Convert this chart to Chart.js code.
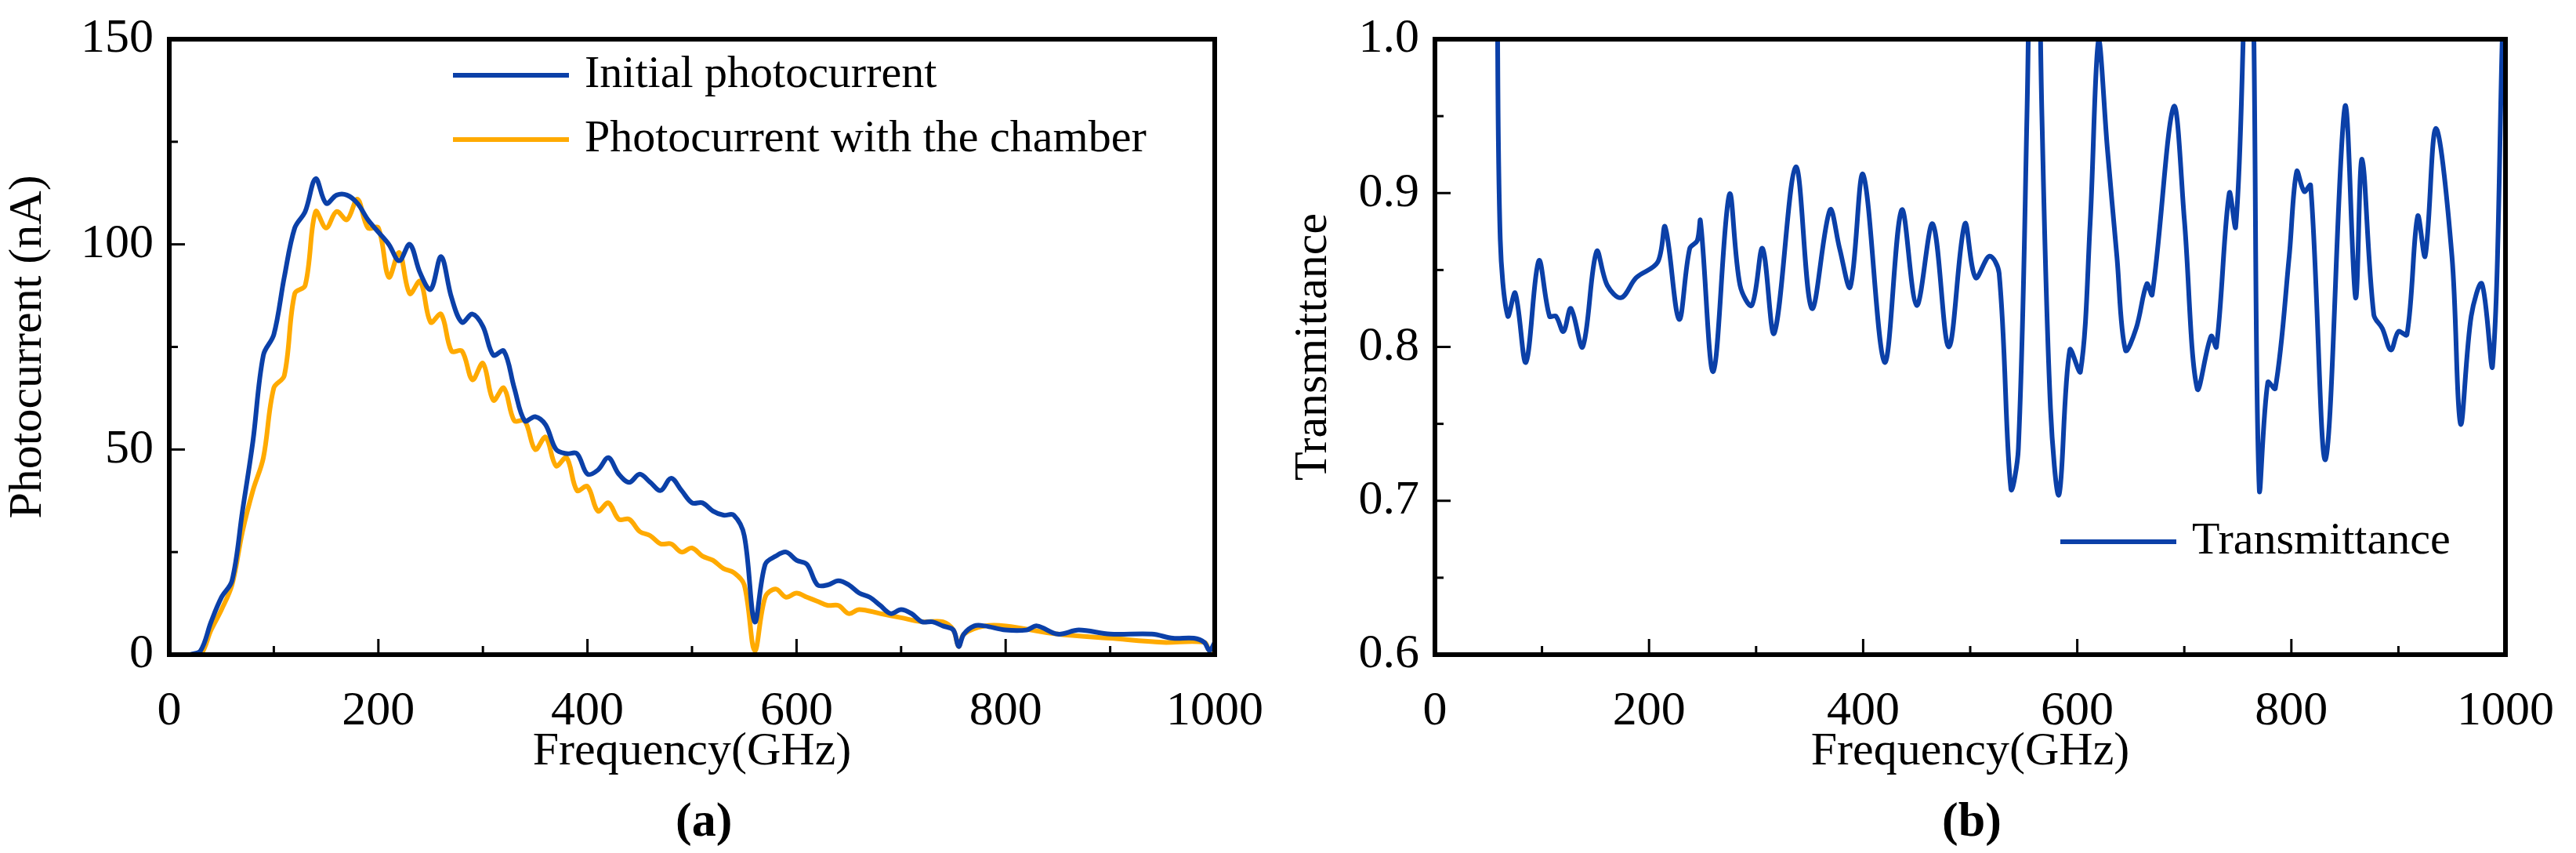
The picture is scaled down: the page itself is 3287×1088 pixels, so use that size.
<!DOCTYPE html>
<html>
<head>
<meta charset="utf-8">
<script src="https://cdn.jsdelivr.net/npm/chart.js@4.4.0/dist/chart.umd.min.js"></script>
<style>
  body { margin: 0; background: #fff; width: 3287px; height: 1088px; position: relative; overflow: hidden; }
  .box { position: absolute; top: 0; height: 1088px; }
  .lab { position: absolute; font: bold 62px "Liberation Serif"; top: 1010px; }
</style>
</head>
<body>
<div class="box" style="left:0;width:1640px"><canvas id="chartA"></canvas></div>
<div class="box" style="left:1640px;width:1647px"><canvas id="chartB"></canvas></div>
<div class="lab" style="left:862px">(a)</div>
<div class="lab" style="left:2478px">(b)</div>
<script>
// (a) photocurrent
const freqA = [20,30,40,50,60,70,80,90,100,110,120,130,140,150,160,170,180,190,200,210,220,230,240,250,260,270,280,290,300,310,320,330,340,350,360,370,380,390,400,410,420,430,440,450,460,470,480,490,500,510,520,530,540,550,560,570,580,590,600,610,620,630,640,650,660,670,680,690,700,710,720,730,740,750,755,760,770,780,800,820,830,850,870,900,940,960,980,990,995,1000];
const initialA = [0,1,8,14,18,35,52,73,78,92,104,108,116,110,112,112,110,106,103,100,96,100,93,89,97,87,81,83,80,73,74,65,57,58,56,50,49,49,44,45,48,44,42,44,42,40,43,40,37,37,35,34,34,29,8,22,24,25,23,22,17,17,18,17,15,14,12,10,11,10,8,8,7,6,2,5,7,7,6,6,7,5,6,5,5,4,4,3,1,3];
const freqC = [20,30,40,50,60,70,80,90,100,110,120,130,140,150,160,170,180,190,200,210,220,230,240,250,260,270,280,290,300,310,320,330,340,350,360,370,380,390,400,410,420,430,440,450,460,470,480,490,500,510,520,530,540,550,560,570,580,590,600,610,620,630,640,650,660,680,700,720,740,750,755,760,780,800,850,900,950,990,995,1000];
const chamberA = [0,0,6,11,17,30,40,48,65,68,88,90,108,104,108,106,111,104,104,92,98,88,91,81,83,74,74,67,71,62,65,57,57,50,53,46,48,40,41,35,37,33,33,30,29,27,27,25,26,24,23,21,20,17,1,14,16,14,15,14,13,12,12,10,11,10,9,8,8,6,2,5,7,7,5,4,3,3,1,2];
// (b) transmittance
const freqB = [58,61,68,75,85,97,107,113,120,127,138,151,161,174,188,208,215,228,238,245,248,260,275,285,296,306,317,337,352,369,378,388,400,420,436,450,465,480,495,505,518,527,538,545,553,558,562,567,575,583,593,603,612,620,628,637,645,655,665,670,690,700,712,725,730,742,748,755,758,762,765,770,778,785,798,805,812,818,832,850,860,866,877,885,893,900,908,918,925,935,950,958,968,978,988,997,1000];
const transB = [1.05,0.87,0.82,0.835,0.79,0.856,0.82,0.82,0.81,0.825,0.80,0.862,0.84,0.832,0.845,0.855,0.878,0.818,0.864,0.869,0.882,0.784,0.899,0.84,0.827,0.864,0.809,0.917,0.825,0.889,0.864,0.839,0.912,0.79,0.889,0.827,0.88,0.80,0.88,0.845,0.859,0.848,0.708,0.734,0.95,1.15,1.15,0.95,0.76,0.704,0.798,0.784,0.88,1.0,0.93,0.859,0.798,0.812,0.841,0.834,0.956,0.883,0.773,0.807,0.80,0.90,0.878,1.0,1.12,1.12,1.0,0.708,0.777,0.773,0.859,0.914,0.901,0.905,0.727,0.956,0.832,0.922,0.821,0.812,0.798,0.81,0.808,0.885,0.859,0.942,0.859,0.75,0.82,0.841,0.788,1.0,1.1];

const BLUE = "#0b40a8";
const ORANGE = "#ffaa00";
const FONT = "Liberation Serif";

function pts(xs, ys) { return xs.map((x, i) => ({ x: x, y: ys[i] })); }

// frame + inward ticks + legend
function framePlugin(opts) {
  return {
    id: "frame",
    afterDraw(chart) {
      const ctx = chart.ctx, a = chart.chartArea;
      const xs = chart.scales.x, ys = chart.scales.y;
      ctx.save();
      ctx.strokeStyle = "#000";
      ctx.lineWidth = 3;
      opts.xMinor.forEach(v => {
        const px = xs.getPixelForValue(v);
        const len = opts.xMajor.includes(v) ? 20 : 11;
        ctx.beginPath(); ctx.moveTo(px, a.bottom); ctx.lineTo(px, a.bottom - len); ctx.stroke();
      });
      opts.yMinor.forEach(v => {
        const py = ys.getPixelForValue(v);
        const len = opts.yMajor.some(m => Math.abs(m - v) < 1e-9) ? 20 : 11;
        ctx.beginPath(); ctx.moveTo(a.left, py); ctx.lineTo(a.left + len, py); ctx.stroke();
      });
      ctx.lineWidth = 6;
      ctx.strokeRect(a.left, a.top, a.right - a.left, a.bottom - a.top);
      ctx.font = "58px '" + FONT + "'";
      ctx.textBaseline = "middle";
      ctx.fillStyle = "#000";
      opts.legend.forEach(l => {
        ctx.strokeStyle = l.color;
        ctx.lineWidth = 6;
        ctx.beginPath(); ctx.moveTo(l.x, l.y); ctx.lineTo(l.x + 148, l.y); ctx.stroke();
        ctx.fillText(l.text, l.x + 168, l.y);
      });
      ctx.restore();
    }
  };
}

function makeChart(id, datasets, cfg) {
  return new Chart(document.getElementById(id), {
    type: "line",
    data: { datasets: datasets },
    options: {
      responsive: true,
      maintainAspectRatio: false,
      animation: false,
      layout: { padding: { top: 50, right: cfg.padRight, left: 0, bottom: 93 } },
      plugins: { legend: { display: false }, tooltip: { enabled: false } },
      elements: { point: { radius: 0 }, line: { borderWidth: 6, tension: 0.35 } },
      scales: {
        x: {
          type: "linear", min: 0, max: 1000,
          afterFit: s => { s.height = 160; },
          grid: { display: false }, border: { display: false },
          ticks: { stepSize: 200, padding: 28, color: "#000", font: { family: FONT, size: 62 },
                   callback: v => String(v) },
          title: { display: true, text: "Frequency(GHz)", color: "#000", padding: 0, font: { family: FONT, size: 60 } }
        },
        y: {
          min: cfg.yMin, max: cfg.yMax,
          afterFit: s => { s.width = cfg.yWidth; },
          grid: { display: false }, border: { display: false },
          ticks: { stepSize: cfg.yStep, padding: 12, color: "#000", font: { family: FONT, size: 62 },
                   callback: cfg.yFmt },
          title: { display: true, text: cfg.yTitle, color: "#000", padding: 0, font: { family: FONT, size: 60 } }
        }
      }
    },
    plugins: [framePlugin(cfg.frame)]
  });
}

makeChart("chartA", [
  { data: pts(freqA, initialA), borderColor: BLUE },
  { data: pts(freqC, chamberA), borderColor: ORANGE }
], {
  padRight: 45, yWidth: 216, yMin: 0, yMax: 150, yStep: 50, yTitle: "Photocurrent (nA)",
  yFmt: v => String(v),
  frame: {
    xMajor: [0,200,400,600,800,1000], xMinor: [0,100,200,300,400,500,600,700,800,900,1000],
    yMajor: [0,50,100,150], yMinor: [0,25,50,75,100,125,150],
    legend: [
      { text: "Initial photocurrent", color: BLUE, x: 578, y: 96 },
      { text: "Photocurrent with the chamber", color: ORANGE, x: 578, y: 178 }
    ]
  }
});

makeChart("chartB", [
  { data: pts(freqB, transB), borderColor: BLUE }
], {
  padRight: 74, yWidth: 191, yMin: 0.6, yMax: 1.0, yStep: 0.1, yTitle: "Transmittance",
  yFmt: v => v.toFixed(1),
  frame: {
    xMajor: [0,200,400,600,800,1000], xMinor: [0,100,200,300,400,500,600,700,800,900,1000],
    yMajor: [0.6,0.7,0.8,0.9,1.0], yMinor: [0.6,0.65,0.7,0.75,0.8,0.85,0.9,0.95,1.0],
    legend: [
      { text: "Transmittance", color: BLUE, x: 989, y: 691 }
    ]
  }
});
</script>
</body>
</html>
